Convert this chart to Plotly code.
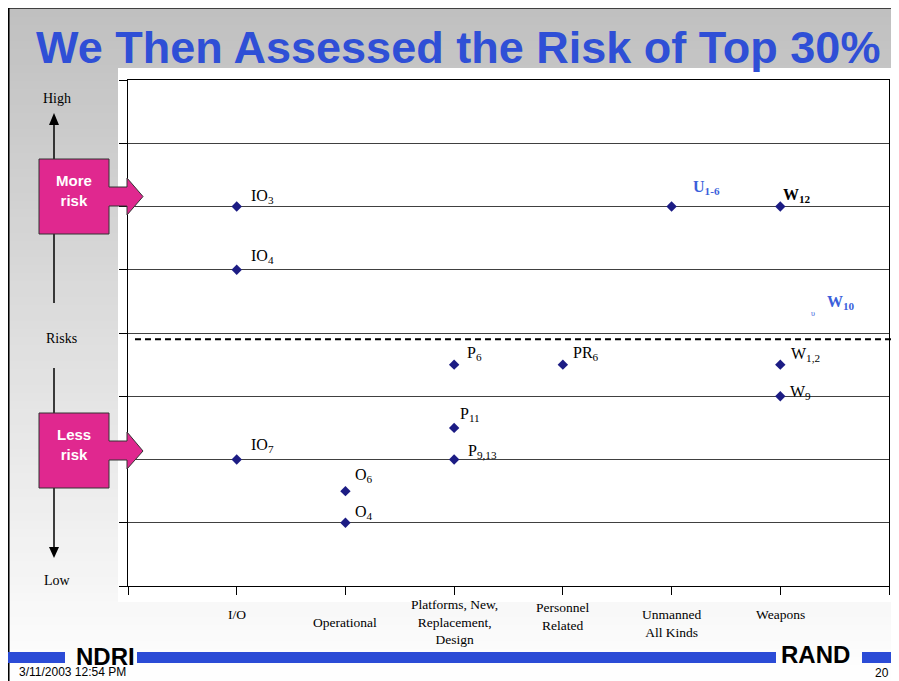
import plotly.graph_objects as go

# ---------------- data ----------------
categories = ["I/O", "Operational", "Platforms, New,<br>Replacement,<br>Design",
              "Personnel<br>Related", "Unmanned<br>All Kinds", "Weapons"]
category_pos = [1, 2, 3, 4, 5, 6]

label_base = ["IO", "IO", "IO", "O", "O", "P", "P", "P", "PR", "U", "W", "W", "W"]
label_sub = ["3", "4", "7", "6", "4", "6", "11", "9,13", "6", "1-6", "12", "1,2", "9"]
point_x = [1, 1, 1, 2, 2, 3, 3, 3, 4, 5, 6, 6, 6]
point_y = [6, 5, 2, 1.5, 1, 3.5, 2.5, 2, 3.5, 6, 6, 3.5, 3]

w10_x = [6.3]
w10_y = [4.3]
w10_base = "W"
w10_sub = "10"

risk_threshold = 3.9
y_ticks = [0, 1, 2, 3, 4, 5, 6, 7, 8]
x_ticks = [0, 1, 2, 3, 4, 5, 6, 7]

# ---------------- style ----------------
OFF = 8  # page body margin
PAGE_W, PAGE_H = 899, 681
W, H = PAGE_W - OFF, PAGE_H - OFF
# plot area in page pixels: x 128..889, y 80..586
ML, MT = 128 - OFF, 80 - OFF
MR = W - (889 - OFF)
MB = H - (586 - OFF)
PW, PH = W - ML - MR, H - MT - MB

def fx(px):
    return (px - OFF - ML) / PW

def fy(py):
    return (H - MB - (py - OFF)) / PH

BLUE = "#2f4fd6"
LBLUE = "#3b5fdb"
NAVY = "#1c1c84"
PINK = "#e0288f"
SERIF = "Liberation Serif, Times New Roman, serif"
SANS = "Liberation Sans, Arial, sans-serif"

# label offsets (dx, dy) in pixels, style/position only
label_offsets = {
    "IO3": (12, 10), "IO4": (12, 13), "IO7": (12, 14), "O6": (8, 16), "O4": (8, 10),
    "P6": (11, 11), "P11": (4, 13), "P9,13": (12, 8), "PR6": (8, 11),
    "U1-6": (19, 19), "W12": (1, 11), "W1,2": (9, 10), "W9": (8, 4),
}
label_style = {
    "U1-6": dict(color=LBLUE, bold=True),
    "W12": dict(color="black", bold=True),
}
cat_centers = [28, 36, 36, 30, 37, 28]  # px below axis for label centres

fig = go.Figure()

fig.add_trace(go.Scatter(
    x=point_x, y=point_y, mode="markers",
    marker=dict(symbol="diamond", size=8, color=NAVY),
    cliponaxis=False, showlegend=False, hoverinfo="skip"))

fig.add_trace(go.Scatter(
    x=w10_x, y=w10_y, mode="text", text=["υ"],
    textfont=dict(size=8, color=LBLUE, family=SERIF),
    cliponaxis=False, showlegend=False, hoverinfo="skip"))

annotations = []
for b, s, x, y in zip(label_base, label_sub, point_x, point_y):
    key = b + s
    dx, dy = label_offsets[key]
    st = label_style.get(key, dict(color="black", bold=False))
    txt = f"{b}<sub>{s}</sub>"
    if st["bold"]:
        txt = f"<b>{txt}</b>"
    annotations.append(dict(x=x, y=y, xref="x", yref="y", text=txt, showarrow=False,
                            xanchor="left", yanchor="middle", xshift=dx, yshift=dy,
                            font=dict(family=SERIF, size=16, color=st["color"])))

annotations.append(dict(x=w10_x[0], y=w10_y[0], xref="x", yref="y",
                        text=f"<b>{w10_base}<sub>{w10_sub}</sub></b>", showarrow=False,
                        xanchor="left", yanchor="middle", xshift=12, yshift=12,
                        font=dict(family=SERIF, size=16, color=LBLUE)))

for c, x, off in zip(categories, category_pos, cat_centers):
    annotations.append(dict(x=x, y=0, xref="x", yref="y", text=c, showarrow=False,
                            xanchor="center", yanchor="middle", yshift=-off,
                            font=dict(family=SERIF, size=13.5, color="black")))

# title
annotations.append(dict(x=fx(34), y=fy(47.5), xref="paper", yref="paper",
                        text="We Then Assessed the Risk of Top 30%", showarrow=False,
                        xanchor="left", yanchor="middle",
                        font=dict(family=SANS, size=45, color=BLUE, weight="bold")))
# left panel labels
for t, px, py in [("High", 57, 98), ("Risks", 61, 339), ("Low", 57, 580)]:
    annotations.append(dict(x=fx(px), y=fy(py), xref="paper", yref="paper", text=t,
                            showarrow=False, xanchor="center", yanchor="middle",
                            font=dict(family=SERIF, size=14, color="black")))
for t, py in [("More<br>risk", 190), ("Less<br>risk", 444)]:
    annotations.append(dict(x=fx(74), y=fy(py), xref="paper", yref="paper", text=t,
                            showarrow=False, xanchor="center", yanchor="middle",
                            font=dict(family=SANS, size=15, color="white", weight="bold")))
# footer
annotations.append(dict(x=fx(105), y=fy(656), xref="paper", yref="paper", text="NDRI",
                        showarrow=False, xanchor="center", yanchor="middle",
                        font=dict(family=SANS, size=24, color="black", weight="bold")))
annotations.append(dict(x=fx(815), y=fy(655), xref="paper", yref="paper", text="RAND",
                        showarrow=False, xanchor="center", yanchor="middle",
                        font=dict(family=SANS, size=24, color="black", weight="bold")))
annotations.append(dict(x=fx(17), y=fy(672), xref="paper", yref="paper",
                        text="3/11/2003 12:54 PM", showarrow=False,
                        xanchor="left", yanchor="middle",
                        font=dict(family=SANS, size=12, color="black")))
annotations.append(dict(x=fx(891), y=fy(673), xref="paper", yref="paper", text="20",
                        showarrow=False, xanchor="right", yanchor="middle",
                        font=dict(family=SANS, size=12, color="black")))

shapes = []
# gradient background
y0 = 9
step = 8
py = y0
while py < PAGE_H:
    t = min((py - y0) / (PAGE_H - y0), 1.0)
    v = int(round(192 + 63 * t))
    shapes.append(dict(type="rect", xref="paper", yref="paper", layer="below",
                       x0=fx(9), x1=fx(PAGE_W), y0=fy(min(py + step, PAGE_H)), y1=fy(py),
                       fillcolor=f"rgb({v},{v},{v})", line=dict(width=0)))
    py += step
# white panel
shapes.append(dict(type="rect", xref="paper", yref="paper", layer="below",
                   x0=fx(118), x1=fx(PAGE_W), y0=fy(602), y1=fy(68),
                   fillcolor="white", line=dict(width=0)))
# frame
shapes.append(dict(type="line", xref="paper", yref="paper", x0=fx(7), x1=fx(PAGE_W),
                   y0=fy(7.5), y1=fy(7.5), line=dict(color="black", width=2.5)))
shapes.append(dict(type="line", xref="paper", yref="paper", x0=fx(8.3), x1=fx(8.3),
                   y0=fy(6), y1=fy(PAGE_H), line=dict(color="black", width=2.5)))
# dashed threshold
shapes.append(dict(type="line", xref="paper", yref="y", x0=fx(135), x1=fx(891),
                   y0=risk_threshold, y1=risk_threshold,
                   line=dict(color="black", width=2, dash="6px,4px")))
# left arrow segments
for a, b in [(123, 159), (234, 303), (368, 413), (488, 549)]:
    shapes.append(dict(type="line", xref="paper", yref="paper", x0=fx(54), x1=fx(54),
                       y0=fy(a), y1=fy(b), line=dict(color="black", width=1.5)))

def path(pts):
    return "M " + " L ".join(f"{fx(a)},{fy(b)}" for a, b in pts) + " Z"

shapes.append(dict(type="path", xref="paper", yref="paper",
                   path=path([(49, 125), (59, 125), (54, 113)]),
                   fillcolor="black", line=dict(width=0)))
shapes.append(dict(type="path", xref="paper", yref="paper",
                   path=path([(49, 547), (59, 547), (54, 558)]),
                   fillcolor="black", line=dict(width=0)))
# pink callouts
for top, bot, r0, r1, h0, h1, tip in [(159, 234, 187, 206, 178, 215, 196.5),
                                       (413, 488, 441, 460, 432, 469, 451)]:
    pts = [(39, top), (109, top), (109, r0), (127, r0), (127, h0), (143, tip),
           (127, h1), (127, r1), (109, r1), (109, bot), (39, bot)]
    shapes.append(dict(type="path", xref="paper", yref="paper", path=path(pts),
                       fillcolor=PINK, line=dict(color="#333333", width=1)))
# footer bars
for a, b in [(8, 65), (137, 776), (862, PAGE_W)]:
    shapes.append(dict(type="rect", xref="paper", yref="paper", x0=fx(a), x1=fx(b),
                       y0=fy(663), y1=fy(652), fillcolor="#2b4bd6", line=dict(width=0)))

fig.update_layout(
    width=W, height=H,
    margin=dict(l=ML, r=MR, t=MT, b=MB, pad=0),
    paper_bgcolor="white", plot_bgcolor="white",
    showlegend=False,
    annotations=annotations, shapes=shapes,
    xaxis=dict(range=[0, 7], tickvals=x_ticks, showticklabels=False, ticks="outside",
               ticklen=8, tickcolor="black", showgrid=False, zeroline=False,
               showline=True, linecolor="black", linewidth=1, mirror=True, fixedrange=True),
    yaxis=dict(range=[0, 8], tickvals=y_ticks, showticklabels=False, ticks="outside",
               ticklen=8, tickcolor="black", showgrid=True, gridcolor="#404040",
               gridwidth=1, zeroline=False, showline=True, linecolor="black",
               linewidth=1, mirror=True, fixedrange=True),
)

fig.write_html("out.html")
